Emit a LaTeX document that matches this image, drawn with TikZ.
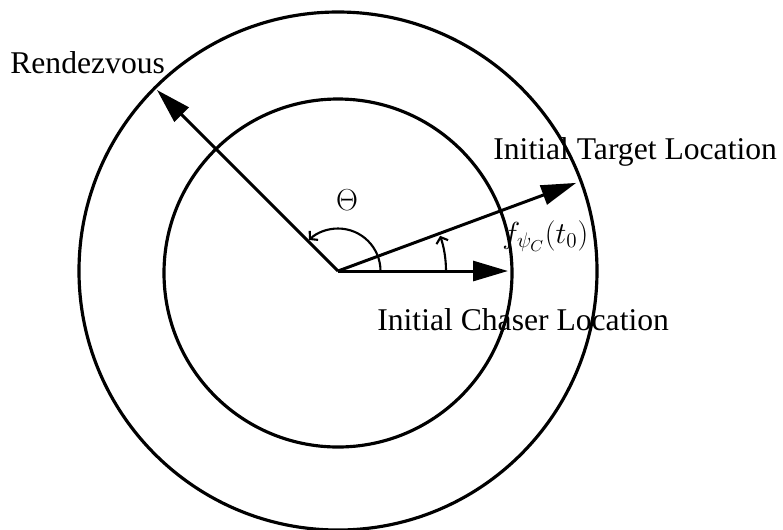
\documentclass[tikz,border=0pt]{standalone}
\usepackage{fontspec}
\setmainfont{Liberation Serif}
\usepackage{amsmath}
\usetikzlibrary{arrows.meta}

\tikzset{
  ring/.style={line width=1.8pt},
  vec/.style={line width=1.7pt,-{Triangle[length=0.7cm,width=0.4cm]}},
  angarc/.style={line width=1.2pt,-{Straight Barb[length=3pt,width=7pt]}},
  lbl/.style={inner sep=0pt,anchor=base west,font=\fontsize{18}{20}\selectfont}
}

\begin{document}
\begin{tikzpicture}
        \useasboundingbox (-6.76,-5.16) rectangle (8.9,5.42);
        % --- CIRCLES ---
        \coordinate (O) at (0,0);
        \draw[ring] (O) circle (5.18);
        \draw[ring] (0,-0.04) circle (3.48);

        % --- VECTORS ---
        \coordinate (rv) at (135:5.12);
        \coordinate (tg) at (20.3:5.08);
        \coordinate (ch) at (0:3.4);
        \draw[vec] (O) -- (rv);
        \draw[vec] (O) -- (tg);
        \draw[vec] (O) -- (ch);

        % --- ANGLES ---
        \draw[angarc] (0.85,0) arc[start angle=0,end angle=133,radius=0.85];
        \draw[angarc] (2.16,0) arc[start angle=0,end angle=19,radius=2.16];
        \node[font=\fontsize{18}{20}\selectfont] (theta) at (0.18,1.42) {$\Theta$};

        % --- LABELS ---
        \node[lbl] (rvlbl) at (-6.56,3.96) {Rendezvous};
        \node[lbl] (tglbl) at (3.1,2.24) {Initial Target Location};
        \node[lbl] (chlbl) at (0.78,-1.18) {Initial Chaser Location};
        \node[lbl] (flbl) at (3.28,0.56) {$f_{\psi_C}(t_0)$};
\end{tikzpicture}
\end{document}
